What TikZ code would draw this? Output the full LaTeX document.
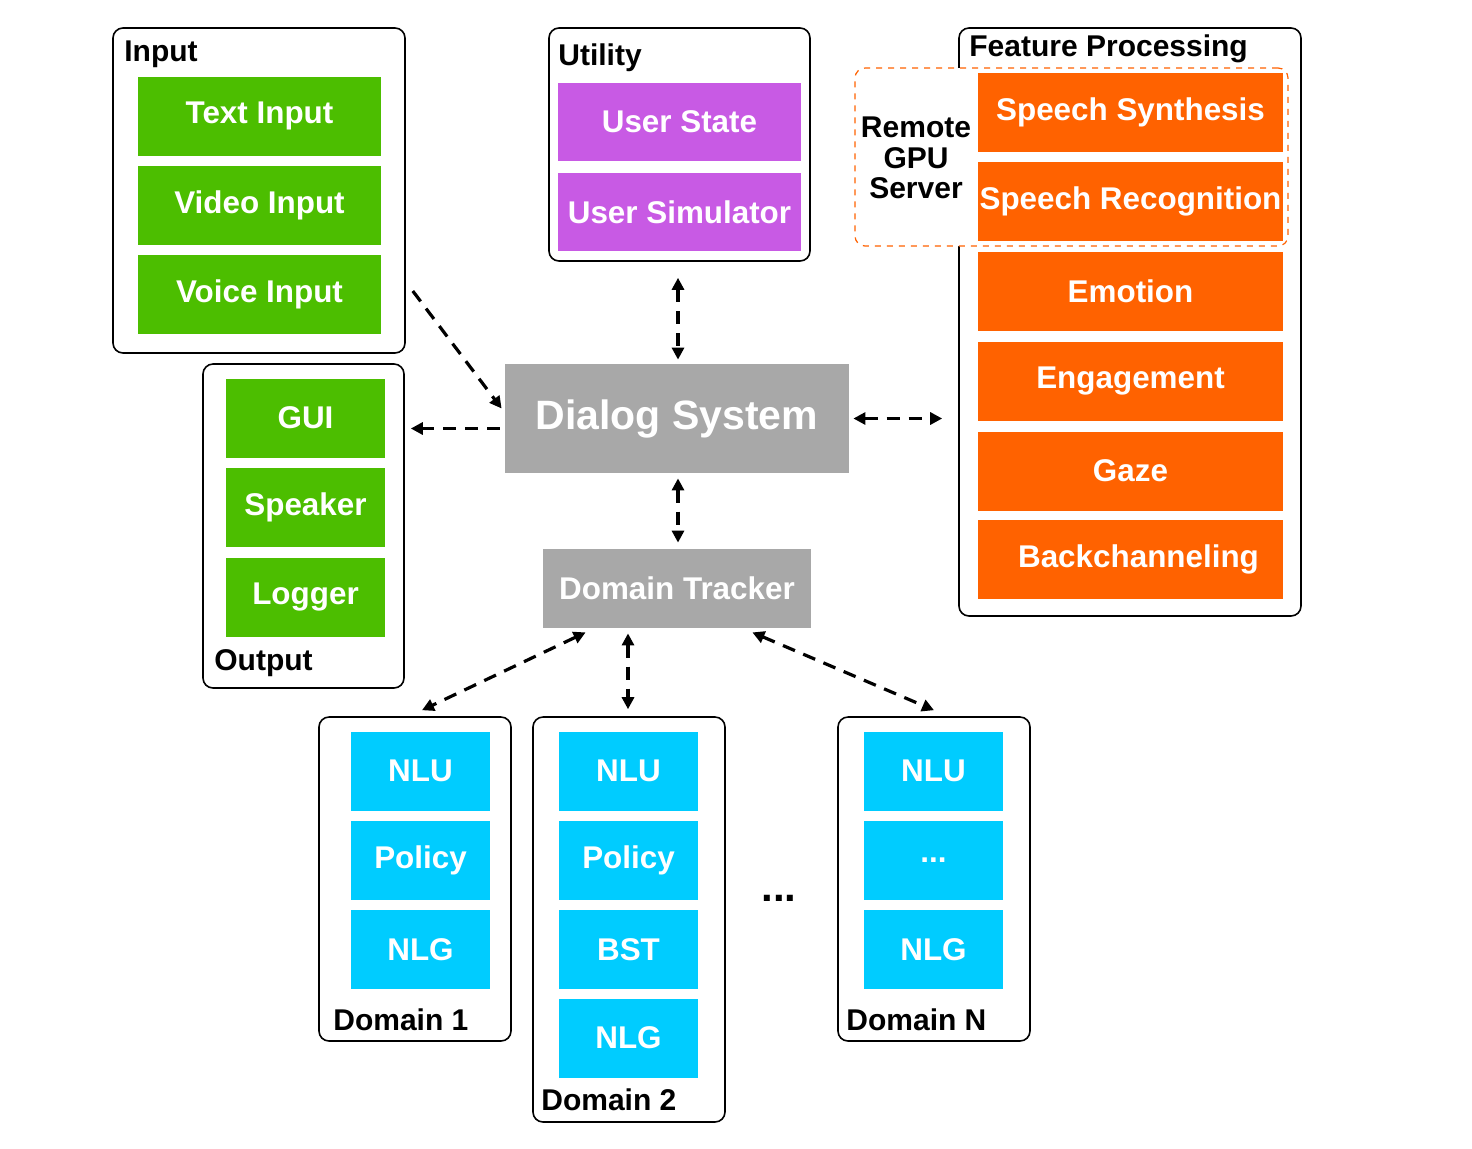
\documentclass[tikz,border=0pt]{standalone}
\usepackage{fontspec}
\setmainfont{Liberation Sans}
\usetikzlibrary{arrows.meta,calc}
\definecolor{verdebox}{RGB}{76,190,0}
\definecolor{roxobox}{RGB}{200,90,228}
\definecolor{laranjabox}{RGB}{255,98,0}
\definecolor{azulbox}{RGB}{0,204,255}
\definecolor{cinzabox}{RGB}{168,168,168}

\tikzset{
  grupo/.style={draw=black, line width=0.8pt, rounded corners=5pt, fill=white, inner sep=0pt},
  titulo/.style={anchor=west, font=\bfseries\fontsize{15}{17}\selectfont, inner sep=0pt},
  modulo/.style={inner sep=0pt, text=white, font=\bfseries\fontsize{15.7}{18}\selectfont, minimum height=39.5pt},
  entrada/.style={modulo, fill=verdebox, minimum width=121.5pt},
  saida/.style={modulo, fill=verdebox, minimum width=79.5pt},
  util/.style={modulo, fill=roxobox, minimum width=121.5pt, minimum height=39pt},
  recurso/.style={modulo, fill=laranjabox, minimum width=152.5pt},
  dominio/.style={modulo, fill=azulbox, minimum width=69.5pt},
  flecha/.style={line width=1.6pt, dash pattern=on 6.5pt off 4.5pt, -{Triangle[length=6pt,width=6pt]}},
  biflecha/.style={flecha, {Triangle[length=6pt,width=6pt]}-{Triangle[length=6pt,width=6pt]}}
}

\begin{document}
\begin{tikzpicture}[x=0.5pt, y=-0.5pt]
  \useasboundingbox (0,0) rectangle (1472,1148);

  % entrada
  \node[grupo, minimum width=146pt, minimum height=162.5pt] (inputbox) at (259,190.5) {};
  \node[titulo] (inputtit) at (124,54) {Input};
  \node[entrada] (textin) at (259.5,116) {Text Input};
  \node[entrada] (videoin) at (259.5,205) {Video Input};
  \node[entrada] (voicein) at (259.5,294) {Voice Input};

  % saida
  \node[grupo, minimum width=100.5pt, minimum height=162pt] (outputbox) at (303.5,526) {};
  \node[saida] (gui) at (305.5,418) {GUI};
  \node[saida] (speaker) at (305.5,507.5) {Speaker};
  \node[saida] (logger) at (305.5,597) {Logger};
  \node[titulo] (outputtit) at (214,663) {Output};

  % utilidades
  \node[grupo, minimum width=130.5pt, minimum height=116.5pt] (utility) at (679.5,144.5) {};
  \node[titulo] (utiltit) at (558,58) {Utility};
  \node[util] (userstate) at (679.5,122) {User State};
  \node[util] (usersim) at (679.5,212) {User Simulator};

  % recursos
  \node[grupo, minimum width=171pt, minimum height=294pt] (feature) at (1130,322) {};
  \node[titulo] (featuretit) at (969,49) {Feature Processing};
  \node[draw=laranjabox, dashed, line width=0.6pt, rounded corners=5pt, fill=white,
        minimum width=216.5pt, minimum height=89pt, inner sep=0pt] (remote) at (1071.5,157) {};
  \node[align=center, font=\bfseries\fontsize{15}{15.3}\selectfont, inner sep=0pt] (remotetit) at (916,158) {Remote\\GPU\\Server};
  \node[recurso] (synth) at (1130.5,112.5) {Speech Synthesis};
  \node[recurso] (recog) at (1130.5,201.5) {Speech Recognition};
  \node[recurso] (emotion) at (1130.5,291.5) {Emotion};
  \node[recurso] (engage) at (1130.5,381.5) {Engagement};
  \node[recurso] (gaze) at (1130.5,471) {Gaze};
  \node[recurso] (backch) at (1130.5,559.5) {\hspace{8pt}Backchanneling};

  % nucleo
  \node[fill=cinzabox, text=white, font=\bfseries\fontsize{20.5}{24}\selectfont,
        minimum width=172pt, minimum height=54.5pt, inner sep=0pt] (dialog) at (677,418.5) {\raisebox{4pt}{Dialog System}};
  \node[modulo, fill=cinzabox, minimum width=134pt] (dt) at (677,588.5) {Domain Tracker};

  % dominios
  \node[grupo, minimum width=96pt, minimum height=162pt] (dom1) at (415,879) {};
  \node[dominio] (nlu1) at (420.5,771) {NLU};
  \node[dominio] (pol1) at (420.5,860.5) {Policy};
  \node[dominio] (nlg1) at (420.5,949.5) {NLG};
  \node[titulo] (dom1tit) at (333,1020) {Domain 1};

  \node[grupo, minimum width=96pt, minimum height=202.5pt] (dom2) at (629,919.5) {};
  \node[dominio] (nlu2) at (628.5,771) {NLU};
  \node[dominio] (pol2) at (628.5,860.5) {Policy};
  \node[dominio] (bst2) at (628.5,949.5) {BST};
  \node[dominio] (nlg2) at (628.5,1038) {NLG};
  \node[titulo] (dom2tit) at (541,1100) {Domain 2};

  \node[font=\bfseries\fontsize{21}{24}\selectfont, inner sep=0pt, anchor=base] (reticencias) at (779,901) {...};

  \node[grupo, minimum width=96pt, minimum height=162pt] (domN) at (934,879) {};
  \node[dominio] (nluN) at (933.5,771) {NLU};
  \node[dominio] (etcN) at (933.5,860.5) {...};
  \node[dominio] (nlgN) at (933.5,949.5) {NLG};
  \node[titulo] (domNtit) at (846,1020) {Domain N};

  % conexoes
  \draw[flecha] ($(inputbox.east|-voicein)+(7,-3)$) -- ($(dialog.west)+(-3,-10)$);
  \draw[flecha] ($(dialog.west)+(-5,10)$) -- ($(outputbox.east|-dialog.west)+(6,10)$);
  \draw[biflecha] ($(dialog.north|-utility.south)+(1,16)$) -- ($(dialog.north)+(1,-4)$);
  \draw[biflecha] ($(dialog.east)+(4,0)$) -- ($(feature.west|-dialog.east)+(-16,0)$);
  \draw[biflecha] ($(dialog.south)+(1,5)$) -- ($(dt.north)+(1,-6)$);
  \draw[biflecha] ($(dt.south west)+(43,4)$) -- ($(dom1.north)+(7,-6)$);
  \draw[biflecha] ($(dt.south)+(-49,5)$) -- ($(dom2.north)+(-1,-7)$);
  \draw[biflecha] ($(dt.south east)+(-59,4)$) -- ($(domN.north)+(0,-6)$);
\end{tikzpicture}
\end{document}
